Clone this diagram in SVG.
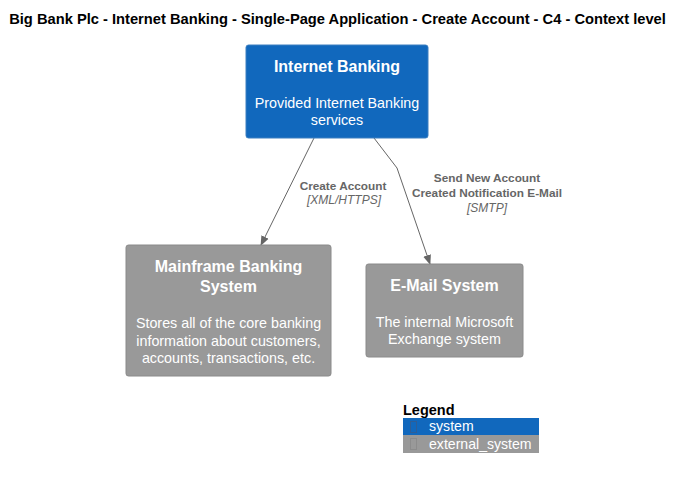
<svg xmlns="http://www.w3.org/2000/svg" width="682" height="479" viewBox="0 0 682 479">
<style>
text{font-family:"Liberation Sans",Arial,sans-serif}
.title{font-size:14.7px;font-weight:bold;fill:#000}
.sys{fill:#1168BD;stroke:#3C7FC0;stroke-width:1}
.ext{fill:#999999;stroke:#8A8A8A;stroke-width:1}
.nt{font-size:16px;font-weight:bold;fill:#fff;text-anchor:middle}
.nd{font-size:14.3px;fill:#fff;text-anchor:middle}
.rel{stroke:#666;stroke-width:1;fill:none}
.rl{font-size:11.8px;font-weight:bold;fill:#666;text-anchor:middle}
.rt{font-size:12px;font-style:italic;fill:#666;text-anchor:middle}
.lg{font-size:14.1px;fill:#fff}
</style>
<defs>
<marker id="arr" viewBox="0 0 10 10" refX="9" refY="5" markerWidth="10" markerHeight="10" markerUnits="userSpaceOnUse" orient="auto">
<path d="M0,1 L10,5 L0,9 Z" fill="#666"/>
</marker>
</defs>
<rect width="682" height="479" fill="#fff"/>
<text class="title" x="337.5" y="24" text-anchor="middle">Big Bank Plc - Internet Banking - Single-Page Application - Create Account - C4 - Context level</text>
<g id="connectors">
<path class="rel" d="M314,138 L261,245" marker-end="url(#arr)"/>
<path class="rel" d="M374,138 L397,168 L430,264" marker-end="url(#arr)"/>
<text class="rl" x="343" y="190">Create Account</text>
<text class="rt" x="344" y="204">[XML/HTTPS]</text>
<text class="rl" x="487" y="182">Send New Account</text>
<text class="rl" x="487" y="197">Created Notification E-Mail</text>
<text class="rt" x="487" y="212">[SMTP]</text>
</g>
<g id="internet-banking">
<rect class="sys" x="246" y="45" width="182" height="93" rx="2.5"/>
<text class="nt" x="337" y="72">Internet Banking</text>
<text class="nd" x="337" y="108">Provided Internet Banking</text>
<text class="nd" x="337" y="125">services</text>
</g>
<g id="mainframe">
<rect class="ext" x="126" y="245" width="205" height="131" rx="2.5"/>
<text class="nt" x="228.5" y="272">Mainframe Banking</text>
<text class="nt" x="228.5" y="292">System</text>
<text class="nd" x="228.5" y="328">Stores all of the core banking</text>
<text class="nd" x="228.5" y="346">information about customers,</text>
<text class="nd" x="228.5" y="363">accounts, transactions, etc.</text>
</g>
<g id="email">
<rect class="ext" x="366" y="264" width="157" height="93" rx="2.5"/>
<text class="nt" x="444.5" y="291">E-Mail System</text>
<text class="nd" x="444.5" y="327">The internal Microsoft</text>
<text class="nd" x="444.5" y="344">Exchange system</text>
</g>
<g id="legend">
<text x="403" y="415" font-size="14.5" font-weight="bold" fill="#000">Legend</text>
<rect x="403" y="418" width="136" height="17" fill="#1168BD"/>
<rect x="403" y="435" width="136" height="18" fill="#999999"/>
<rect x="410.5" y="421.5" width="6" height="11" fill="none" stroke="#2E5E96" stroke-width="1"/>
<rect x="410.5" y="438.5" width="6" height="11" fill="none" stroke="#8C8C8C" stroke-width="1"/>
<text class="lg" x="429" y="431">system</text>
<text class="lg" x="429" y="449">external_system</text>
</g>
</svg>
